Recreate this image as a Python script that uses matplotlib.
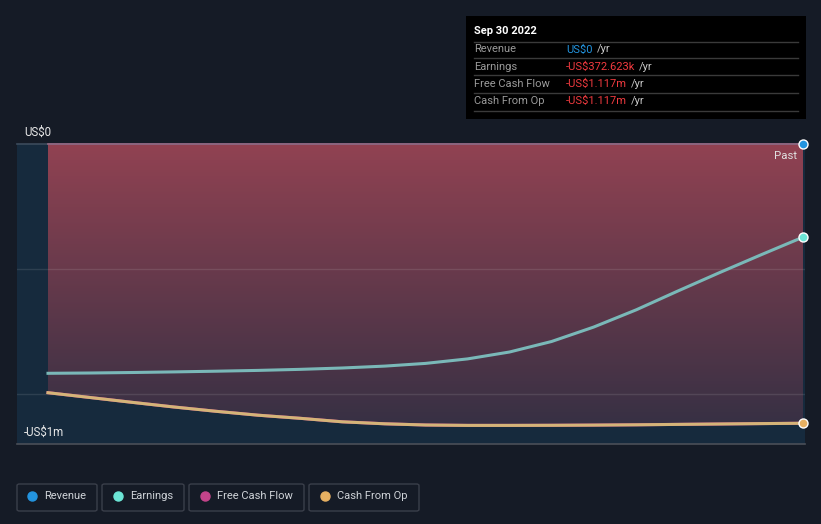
import numpy as np
import pandas as pd
import matplotlib
matplotlib.use("Agg")
from matplotlib import pyplot as plt
from matplotlib.patches import FancyBboxPatch, Rectangle
import matplotlib.dates as mdates

plt.rcParams['font.family'] = ['Roboto', 'DejaVu Sans']

# data (US$), every two months
dates = pd.date_range("2019-09-30", "2022-09-30", freq="2ME")
revenue = [0] * len(dates)
earnings = [-917.2e3, -916.0e3, -914.0e3, -911.6e3, -908.8e3, -905.6e3,
            -901.4e3, -896.0e3, -888.4e3, -877.6e3, -859.6e3, -832.0e3,
            -790.0e3, -732.4e3, -663.2e3, -589.7e3, -515.5e3, -443.3e3,
            -372.623e3]
cash_from_op = [-994.8e3, -1014e3, -1033.6e3, -1052e3, -1069.2e3, -1084.8e3,
                -1097.2e3, -1111.2e3, -1119.2e3, -1124e3, -1125.6e3,
                -1125.6e3, -1125.2e3, -1124.4e3, -1123.2e3, -1121.6e3,
                -1120e3, -1118.4e3, -1117e3]
free_cash_flow = list(cash_from_op)

legend_names = ["Revenue", "Earnings", "Free Cash Flow", "Cash From Op"]
legend_colors = ["#2394df", "#6ce5d6", "#c4448a", "#e6b062"]
tip_rows = [("Revenue", "US$0", "#2394df"),
            ("Earnings", "-US$372.623k", "#f03a3f"),
            ("Free Cash Flow", "-US$1.117m", "#f03a3f"),
            ("Cash From Op", "-US$1.117m", "#f03a3f")]

W, H = 821, 524
bg = "#151b26"
fig = plt.figure(figsize=(W / 100, H / 100), dpi=100, facecolor=bg)
ax = fig.add_axes([17 / W, 1 - 444 / H, 788 / W, 300 / H])
ax.set_facecolor("#162a3d")

x = mdates.date2num(dates)
span = x[-1] - x[0]
ax.set_xlim(x[0] - span * 31 / 755, x[-1] + span * 2 / 755)
ax.set_ylim(-1.2e6, 0)

# gradient fill between 0 and the lowest line
poly = ax.fill_between(x, cash_from_op, 0, facecolor="none", lw=0)
top = np.array([145, 66, 82]) / 255
bot = np.array([49, 47, 67]) / 255
t = np.linspace(0, 1, 256)[:, None, None]
grad = top * (1 - t) + bot * t
im = ax.imshow(grad, aspect="auto", extent=[x[0], x[-1], -1.2e6, 0],
               origin="upper", zorder=1)
im.set_clip_path(poly.get_paths()[0], transform=ax.transData)

for gy in [-0.5e6, -1e6]:
    ax.axhline(gy, color="white", alpha=0.1, lw=1, zorder=2)
ax.axhline(0, color="#3c4b5c", lw=1.2, zorder=2, clip_on=False)
ax.plot(x, revenue, color="#9a6a86", lw=1.2, zorder=3, clip_on=False)

ax.plot(x, free_cash_flow, color="#c4448a", lw=2.2, zorder=3)
ax.plot(x, earnings, color="#7ab8b8", lw=2.2, zorder=4)
ax.plot(x, cash_from_op, color="#d4b478", lw=2.2, zorder=4)

for vals, c in [(revenue, "#2394df"), (earnings, "#6ce5d6"),
                (cash_from_op, "#e6b062")]:
    ax.plot(x[-1], vals[-1], "o", ms=6.5, mfc=c, mec="white", mew=1,
            zorder=6, clip_on=False)

for s in ["top", "left", "right"]:
    ax.spines[s].set_visible(False)
ax.spines["bottom"].set_color("#4a4f58")
ax.spines["bottom"].set_linewidth(1.2)
ax.set_xticks([])
ax.set_yticks([])

fig.text(24 / W, 1 - 132 / H, "US$0", color="#e8e8e8", fontsize=8.3,
         va="center", ha="left")
fig.text(24 / W, 1 - 432 / H, "-US$1m", color="#e8e8e8", fontsize=8.3,
         va="center", ha="left")
fig.text(797 / W, 1 - 156 / H, "Past", color="#e0e0e0", fontsize=8.2,
         va="center", ha="right")

# tooltip box
fig.patches.append(Rectangle((466 / W, 1 - 119 / H), 340 / W, 103 / H,
                             transform=fig.transFigure, facecolor="black",
                             edgecolor="none"))
fig.text(474 / W, 1 - 31 / H, "Sep 30 2022", color="white", fontsize=8,
         fontweight="bold", va="center")
for yy in [41.5, 58, 75, 92.5, 110.5]:
    fig.add_artist(plt.Line2D([474 / W, 798 / W], [1 - yy / H, 1 - yy / H],
                              color="#3a3a3a", lw=1))
row_y = [49.5, 66.5, 84, 101]
for (lab, val, col), yy in zip(tip_rows, row_y):
    fig.text(474 / W, 1 - yy / H, lab, color="#9a9a9a", fontsize=8,
             va="center")
    tv = fig.text(566 / W, 1 - yy / H, val, color=col, fontsize=8,
                  va="center")
    fig.canvas.draw()
    bb = tv.get_window_extent()
    fig.text(bb.x1 / W + 4 / W, 1 - yy / H, "/yr", color="#c8c8c8",
             fontsize=8, va="center")

# legend boxes
boxes = [(17, 97), (102, 184), (189, 304), (309, 419)]
dots = [32, 118, 205, 325]
texts_x = [44, 130, 217, 337]
for (bx0, bx1), dx, tx, name, col in zip(boxes, dots, texts_x, legend_names,
                                        legend_colors):
    fig.patches.append(FancyBboxPatch((bx0 / W, 1 - 511 / H), (bx1 - bx0) / W,
                                      27 / H, boxstyle="round,pad=0,rounding_size=0.003",
                                      transform=fig.transFigure,
                                      facecolor=bg, edgecolor="#3a3f4a", lw=1))
    fig.add_artist(plt.Line2D([dx / W], [1 - 496 / H], marker="o", ms=6.5,
                              color=col, mec=col))
    fig.text(tx / W, 1 - 496 / H, name, color="#cfd3d8", fontsize=8.0,
             va="center")

fig.savefig("out.png", dpi=100, facecolor=bg)
